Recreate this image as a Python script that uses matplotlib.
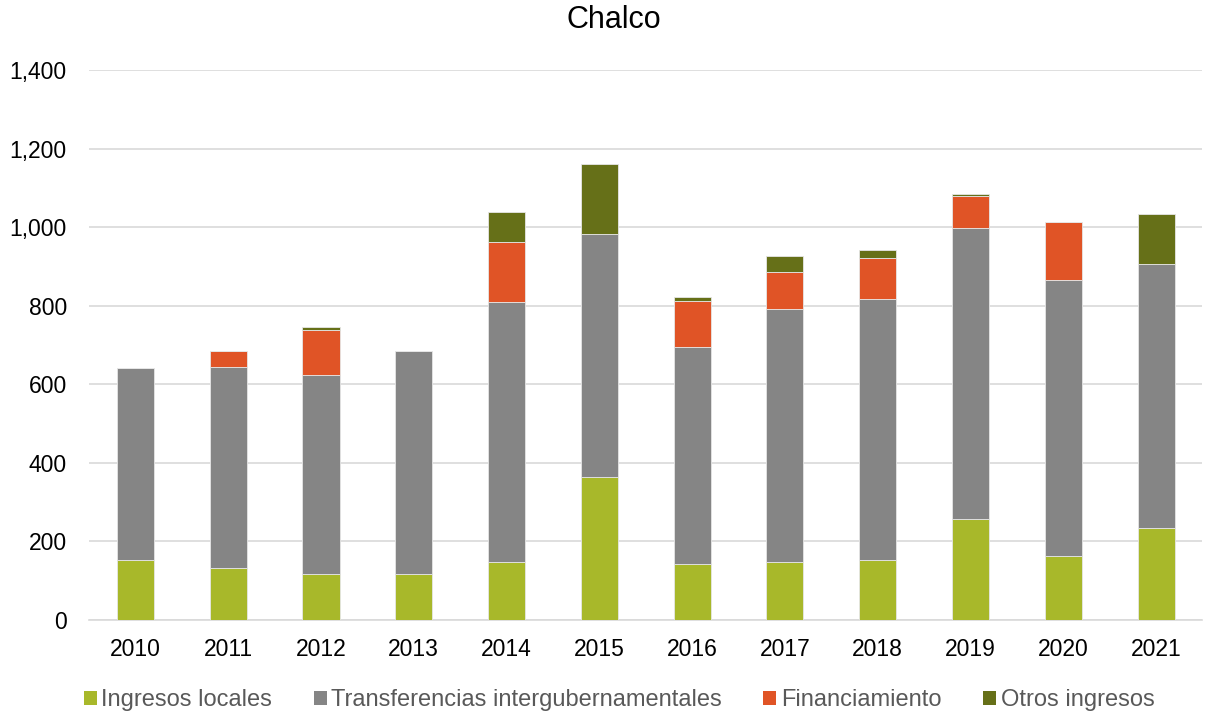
import numpy as np
import matplotlib.pyplot as plt
from matplotlib.patches import Patch

plt.rcParams['font.family'] = ['Liberation Sans', 'DejaVu Sans']

# Datos (millones de pesos)
anios = ['2010', '2011', '2012', '2013', '2014', '2015',
         '2016', '2017', '2018', '2019', '2020', '2021']
ingresos_locales = [152, 132, 117, 117, 148, 364, 142, 148, 153, 257, 163, 234]
transferencias = [489, 512, 507, 568, 661, 618, 553, 643, 664, 741, 702, 672]
financiamiento = [0, 41, 114, 0, 153, 0, 117, 95, 104, 81, 148, 0]
otros_ingresos = [0, 0, 8, 0, 76, 178, 10, 40, 21, 5, 0, 127]

series = [
    ('Ingresos locales', ingresos_locales, '#A8B82A'),
    ('Transferencias intergubernamentales', transferencias, '#858585'),
    ('Financiamiento', financiamiento, '#E05426'),
    ('Otros ingresos', otros_ingresos, '#667018'),
]

fig = plt.figure(figsize=(12.09, 7.15), dpi=100)
ax = fig.add_axes([0.0736, 0.133, 0.921, 0.769])

x = np.arange(len(anios))
base = np.zeros(len(anios))
for nombre, valores, color in series:
    ax.bar(x, valores, width=0.4, bottom=base, color=color,
           edgecolor='#E6E6E6', linewidth=0.6, zorder=3)
    base += np.array(valores)

ax.set_xlim(-0.5, len(anios) - 0.5)
ax.set_ylim(0, 1400)
ax.set_yticks(range(0, 1401, 200))
ax.set_yticklabels([f'{v:,}' for v in range(0, 1401, 200)])
ax.set_xticks(x)
ax.set_xticklabels(anios)
ax.yaxis.grid(True, color='#D9D9D9', linewidth=1.2, zorder=0)
ax.tick_params(axis='both', length=0, labelsize=16.5, colors='#000000')
ax.tick_params(axis='y', pad=16)
ax.tick_params(axis='x', pad=13)
for s in ['top', 'right', 'left']:
    ax.spines[s].set_visible(False)
ax.spines['bottom'].set_color('#D9D9D9')
ax.spines['bottom'].set_linewidth(1.2)

fig.text(0.508, 0.972, 'Chalco', ha='center', va='center', fontsize=22)

handles = [Patch(facecolor=c, label=n) for n, _, c in series]
fig.legend(handles=handles, loc='center', bbox_to_anchor=(0.512, 0.021),
           ncol=4, frameon=False, fontsize=17, handlelength=0.55,
           handleheight=0.55, handletextpad=0.2, columnspacing=1.75,
           labelcolor='#595959', borderpad=0)

fig.savefig('out.png', dpi=100)
